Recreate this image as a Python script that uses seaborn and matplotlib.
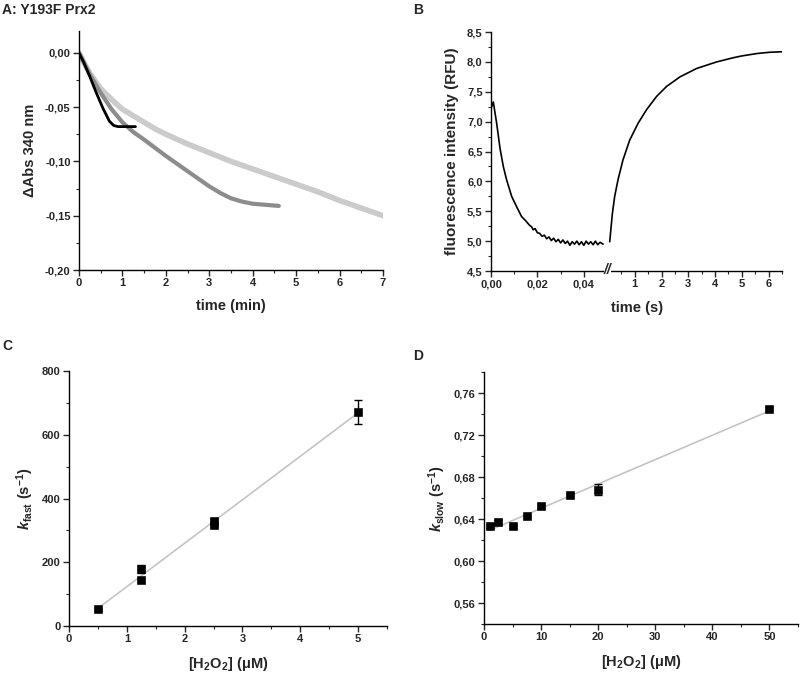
import matplotlib
matplotlib.use('Agg')
import matplotlib.pyplot as plt
from matplotlib.ticker import FuncFormatter, MultipleLocator, FixedLocator
import seaborn as sns
import numpy as np

# --- A: absorbance traces ---
t_light = [0, 0.1, 0.25, 0.5, 0.75, 1.0, 1.25, 1.5, 1.75, 2.0, 2.5, 3.0, 3.5, 4.0, 4.5,
           5.0, 5.5, 6.0, 6.5, 7.0]
abs_light = [0, -0.008, -0.019, -0.033, -0.043, -0.052, -0.058, -0.064, -0.070, -0.075,
             -0.084, -0.092, -0.100, -0.107, -0.114, -0.121, -0.128, -0.136, -0.143, -0.150]
t_dark = [0, 0.1, 0.25, 0.5, 0.75, 1.0, 1.25, 1.5, 1.75, 2.0, 2.25, 2.5, 2.75, 3.0, 3.25,
          3.5, 3.75, 4.0, 4.3, 4.6]
abs_dark = [0, -0.008, -0.020, -0.037, -0.052, -0.064, -0.073, -0.080, -0.0875, -0.095,
            -0.102, -0.109, -0.116, -0.123, -0.129, -0.134, -0.137, -0.139, -0.140, -0.141]
t_black = [0, 0.1, 0.25, 0.4, 0.55, 0.7, 0.8, 0.9, 1.0, 1.1, 1.3]
abs_black = [0, -0.008, -0.022, -0.037, -0.051, -0.063, -0.067, -0.068, -0.068, -0.068, -0.068]

# --- B: fluorescence stopped-flow trace ---
t_fast = [0, 0.001, 0.00245, 0.0039, 0.0053, 0.0067, 0.0089, 0.011, 0.0132, 0.0150,
          0.0165, 0.0175, 0.0182, 0.019, 0.020, 0.021, 0.022, 0.023, 0.024, 0.025,
          0.026, 0.027, 0.028, 0.029, 0.030, 0.031, 0.032, 0.033, 0.034, 0.035,
          0.036, 0.037, 0.038, 0.039, 0.040, 0.041, 0.042, 0.043, 0.044, 0.045,
          0.046, 0.047, 0.0483]
rfu_fast = [7.22, 7.33, 6.97, 6.55, 6.25, 6.03, 5.75, 5.58, 5.41, 5.34,
            5.27, 5.24, 5.19, 5.21, 5.14, 5.13, 5.08, 5.10, 5.04, 5.07,
            5.01, 5.05, 4.99, 5.03, 4.97, 5.02, 4.96, 5.00, 4.93, 4.99,
            4.95, 5.00, 4.94, 4.99, 4.93, 5.00, 4.95, 4.99, 4.94, 5.00,
            4.94, 4.98, 4.95]
t_slow = [0.064, 0.165, 0.25, 0.375, 0.56, 0.81, 1.12, 1.44, 1.81, 2.19, 2.69, 3.31,
          4.06, 4.68, 5.0, 5.56, 6.0, 6.49]
rfu_slow = [4.99, 5.47, 5.75, 6.03, 6.36, 6.69, 6.97, 7.20, 7.42, 7.59, 7.75, 7.89,
            8.00, 8.07, 8.10, 8.14, 8.16, 8.17]

# --- C: k_fast vs [H2O2] ---
h2o2_c = [0.5, 1.25, 1.25, 2.5, 2.5, 5.0]
kfast = [53, 179, 144, 330, 318, 671]
kfast_err = [5, 12, 6, 6, 6, 37]

# --- D: k_slow vs [H2O2] ---
h2o2_d = [1, 2.5, 5, 7.5, 10, 15, 20, 50]
kslow = [0.633, 0.637, 0.633, 0.6425, 0.652, 0.663, 0.668, 0.745]
kslow_err = [0.0015, 0.002, 0.0015, 0.0015, 0.0015, 0.0015, 0.005, 0.0015]

sns.set_style('ticks')
plt.rcParams['font.family'] = ['Liberation Sans', 'DejaVu Sans']
plt.rcParams['font.weight'] = 'bold'
plt.rcParams['mathtext.fontset'] = 'custom'
plt.rcParams['mathtext.rm'] = 'Liberation Sans:bold'
plt.rcParams['mathtext.it'] = 'Liberation Sans:italic:bold'
plt.rcParams['mathtext.bf'] = 'Liberation Sans:bold'

LABEL = 10.5


def comma(fmt):
    def f(v, pos):
        s = fmt.format(v)
        if s.startswith('-') and float(s) == 0:
            s = s[1:]
        return s.replace('.', ',')
    return FuncFormatter(f)


def style(ax):
    for s in ['top', 'right']:
        ax.spines[s].set_visible(False)
    for s in ['left', 'bottom']:
        ax.spines[s].set_linewidth(1.0)
        ax.spines[s].set_color('black')
    ax.tick_params(which='major', direction='out', length=4, width=1, labelsize=8, pad=2)
    ax.tick_params(which='minor', direction='out', length=2.5, width=0.8)
    for lab in ax.get_xticklabels() + ax.get_yticklabels():
        lab.set_fontweight('bold')


fig = plt.figure(figsize=(8, 6.73), dpi=100)

# ---------- A ----------
axA = fig.add_axes([0.09875, 0.5988, 0.38, 0.3551])
sns.lineplot(x=t_light, y=abs_light, ax=axA, color='#cbcbcb', lw=4, estimator=None, sort=False)
sns.lineplot(x=t_dark, y=abs_dark, ax=axA, color='#8c8c8c', lw=3, estimator=None, sort=False)
sns.lineplot(x=t_black, y=abs_black, ax=axA, color='black', lw=2, estimator=None, sort=False)
axA.set_xlim(0, 7)
axA.set_ylim(-0.2, 0.02)
axA.xaxis.set_major_locator(MultipleLocator(1))
axA.xaxis.set_minor_locator(MultipleLocator(0.5))
axA.yaxis.set_major_locator(MultipleLocator(0.05))
axA.yaxis.set_minor_locator(MultipleLocator(0.025))
axA.yaxis.set_major_formatter(comma('{:.2f}'))
axA.set_xlabel('time (min)', fontsize=LABEL, fontweight='bold', labelpad=8)
axA.set_ylabel('ΔAbs 340 nm', fontsize=LABEL, fontweight='bold', labelpad=6)
style(axA)
fig.text(0.003, 0.995, 'A: Y193F Prx2', fontsize=10, fontweight='bold', va='top')

# ---------- B ----------
axB1 = fig.add_axes([0.61375, 0.5973, 0.145, 0.3551])
axB2 = fig.add_axes([0.76, 0.5973, 0.2175, 0.3551])
sns.lineplot(x=t_fast, y=rfu_fast, ax=axB1, color='black', lw=1.2, estimator=None, sort=False)
sns.lineplot(x=t_slow, y=rfu_slow, ax=axB2, color='black', lw=1.2, estimator=None, sort=False)
for ax in (axB1, axB2):
    ax.set_ylim(4.5, 8.5)
    ax.set_xlabel('')
axB1.set_xlim(0, 0.05)
axB2.set_xlim(0, 6.5)
axB1.xaxis.set_major_locator(FixedLocator([0, 0.02, 0.04]))
axB1.xaxis.set_minor_locator(FixedLocator([0.01, 0.03]))
axB1.xaxis.set_major_formatter(comma('{:.2f}'))
axB1.yaxis.set_major_locator(MultipleLocator(0.5))
axB1.yaxis.set_minor_locator(MultipleLocator(0.25))
axB1.yaxis.set_major_formatter(comma('{:.1f}'))
axB2.xaxis.set_major_locator(FixedLocator([1, 2, 3, 4, 5, 6]))
axB2.xaxis.set_minor_locator(FixedLocator([0.5, 1.5, 2.5, 3.5, 4.5, 5.5, 6.5]))
axB1.set_ylabel('fluorescence intensity (RFU)', fontsize=11, fontweight='bold', labelpad=6)
style(axB1)
style(axB2)
axB2.spines['left'].set_visible(False)
axB2.tick_params(axis='y', left=False, labelleft=False)
fig.text(0.7965, 0.543, 'time (s)', fontsize=LABEL, fontweight='bold', ha='center', va='center')
# axis break mark
fig.text(0.7595, 0.5985, '//', fontsize=10, fontweight='bold', fontstyle='italic',
         ha='center', va='center', bbox=dict(facecolor='white', edgecolor='none', pad=0.0))
fig.text(0.516, 0.995, 'B', fontsize=10, fontweight='bold', va='top')

# ---------- C ----------
axC = fig.add_axes([0.08625, 0.0698, 0.3975, 0.3789])
sns.regplot(x=h2o2_c, y=kfast, ax=axC, scatter=False, ci=None, truncate=True,
            color='#c4c4c4', line_kws={'lw': 1.2})
axC.errorbar(h2o2_c, kfast, yerr=kfast_err, fmt='none', ecolor='black', elinewidth=1,
             capsize=3, capthick=1, zorder=3)
sns.scatterplot(x=h2o2_c, y=kfast, ax=axC, marker='s', s=30, color='black', edgecolor='black',
                zorder=4)
axC.set_xlim(0, 5.5)
axC.set_ylim(0, 800)
axC.xaxis.set_major_locator(MultipleLocator(1))
axC.xaxis.set_minor_locator(MultipleLocator(0.5))
axC.yaxis.set_major_locator(MultipleLocator(200))
axC.yaxis.set_minor_locator(MultipleLocator(100))
axC.set_xlabel(r'[H$_{2}$O$_{2}$] (μM)', fontsize=LABEL, fontweight='bold', labelpad=8)
axC.set_ylabel(r'$k_{\mathrm{fast}}\ \mathrm{(s^{-1})}$', fontsize=LABEL, labelpad=4)
style(axC)
fig.text(0.003, 0.497, 'C', fontsize=10, fontweight='bold', va='top')

# ---------- D ----------
axD = fig.add_axes([0.605, 0.0728, 0.3925, 0.3744])
sns.regplot(x=h2o2_d, y=kslow, ax=axD, scatter=False, ci=None, truncate=True,
            color='#c4c4c4', line_kws={'lw': 1.2})
axD.errorbar(h2o2_d, kslow, yerr=kslow_err, fmt='none', ecolor='black', elinewidth=1,
             capsize=3, capthick=1, zorder=3)
sns.scatterplot(x=h2o2_d, y=kslow, ax=axD, marker='s', s=30, color='black', edgecolor='black',
                zorder=4)
axD.set_xlim(0, 55)
axD.set_ylim(0.54, 0.78)
axD.xaxis.set_major_locator(MultipleLocator(10))
axD.xaxis.set_minor_locator(MultipleLocator(5))
axD.yaxis.set_major_locator(FixedLocator([0.56, 0.60, 0.64, 0.68, 0.72, 0.76]))
axD.yaxis.set_minor_locator(FixedLocator([0.54, 0.58, 0.62, 0.66, 0.70, 0.74, 0.78]))
axD.yaxis.set_major_formatter(comma('{:.2f}'))
axD.set_xlabel(r'[H$_{2}$O$_{2}$] (μM)', fontsize=LABEL, fontweight='bold', labelpad=8)
axD.set_ylabel(r'$k_{\mathrm{slow}}\ \mathrm{(s^{-1})}$', fontsize=LABEL, labelpad=4)
style(axD)
fig.text(0.516, 0.482, 'D', fontsize=10, fontweight='bold', va='top')

fig.savefig('out.png', dpi=100)
